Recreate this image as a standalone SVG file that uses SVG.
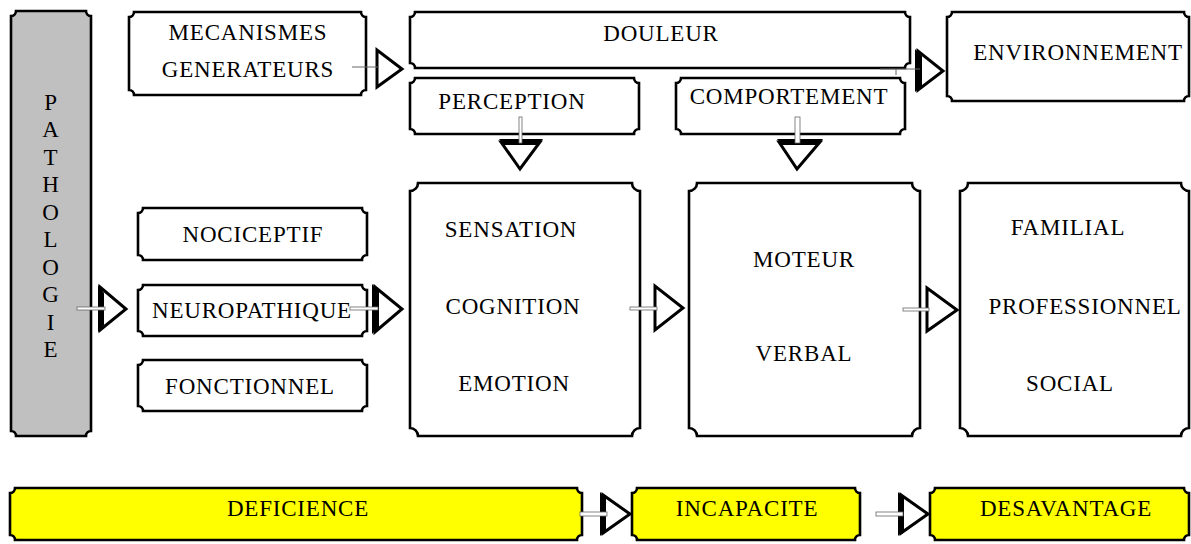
<svg xmlns="http://www.w3.org/2000/svg" width="1191" height="544" viewBox="0 0 1191 544">
<style>
.box{fill:#fff;stroke:#000;stroke-width:2.6}
.gray{fill:#c0c0c0}
.yel{fill:#ffff00}
.t{font-family:"Liberation Serif","Times New Roman",serif;font-size:23px;letter-spacing:0.8px;text-anchor:middle;fill:#000}
.tri{fill:#fff;stroke:#000;stroke-width:3;stroke-linejoin:miter}
.band{fill:#000}
.shaft{fill:#fff;stroke:#666;stroke-width:0.8}
.ln{stroke:#666;stroke-width:1;fill:none}
</style>
<rect width="1191" height="544" fill="#fff"/>
<g id="pathologie">
<path class="box gray" d="M16,11 H86 A5 5 0 0 0 91,16 V431 A5 5 0 0 0 86,436 H16 A5 5 0 0 0 11,431 V16 A5 5 0 0 0 16,11 Z"/>
<text class="t" x="51" y="110">P</text>
<text class="t" x="51" y="137">A</text>
<text class="t" x="51" y="165">T</text>
<text class="t" x="51" y="192">H</text>
<text class="t" x="51" y="220">O</text>
<text class="t" x="51" y="247">L</text>
<text class="t" x="51" y="275">O</text>
<text class="t" x="51" y="302">G</text>
<text class="t" x="51" y="330">I</text>
<text class="t" x="51" y="357">E</text>
</g>
<g id="mecanismes">
<path class="box" d="M134,12 H361 A5 5 0 0 0 366,17 V90 A5 5 0 0 0 361,95 H134 A5 5 0 0 0 129,90 V17 A5 5 0 0 0 134,12 Z"/>
<text class="t" x="248" y="40">MECANISMES</text>
<text class="t" x="248" y="77">GENERATEURS</text>
</g>
<g id="douleur">
<path class="box" d="M415,12 H905 A5 5 0 0 0 910,17 V63 A5 5 0 0 0 905,68 H415 A5 5 0 0 0 410,63 V17 A5 5 0 0 0 415,12 Z"/>
<text class="t" x="661" y="41">DOULEUR</text>
</g>
<g id="environnement">
<path class="box" d="M952,12 H1184 A5 5 0 0 0 1189,17 V96 A5 5 0 0 0 1184,101 H952 A5 5 0 0 0 947,96 V17 A5 5 0 0 0 952,12 Z"/>
<text class="t" x="1078" y="60">ENVIRONNEMENT</text>
</g>
<g id="perception">
<path class="box" d="M415,78 H634 A5 5 0 0 0 639,83 V129 A5 5 0 0 0 634,134 H415 A5 5 0 0 0 410,129 V83 A5 5 0 0 0 415,78 Z"/>
<text class="t" x="512" y="109">PERCEPTION</text>
</g>
<g id="comportement">
<path class="box" d="M681,78 H900 A5 5 0 0 0 905,83 V129 A5 5 0 0 0 900,134 H681 A5 5 0 0 0 676,129 V83 A5 5 0 0 0 681,78 Z"/>
<text class="t" x="789" y="104">COMPORTEMENT</text>
</g>
<g id="nociceptif">
<path class="box" d="M143,208 H362 A5 5 0 0 0 367,213 V255 A5 5 0 0 0 362,260 H143 A5 5 0 0 0 138,255 V213 A5 5 0 0 0 143,208 Z"/>
<text class="t" x="253" y="242">NOCICEPTIF</text>
</g>
<g id="neuropathique">
<path class="box" d="M143,285 H362 A5 5 0 0 0 367,290 V331 A5 5 0 0 0 362,336 H143 A5 5 0 0 0 138,331 V290 A5 5 0 0 0 143,285 Z"/>
<text class="t" x="252" y="318">NEUROPATHIQUE</text>
</g>
<g id="fonctionnel">
<path class="box" d="M143,360 H362 A5 5 0 0 0 367,365 V406 A5 5 0 0 0 362,411 H143 A5 5 0 0 0 138,406 V365 A5 5 0 0 0 143,360 Z"/>
<text class="t" x="250" y="394">FONCTIONNEL</text>
</g>
<g id="sensation">
<path class="box" d="M418,183 H632 A8 8 0 0 0 640,191 V428 A8 8 0 0 0 632,436 H418 A8 8 0 0 0 410,428 V191 A8 8 0 0 0 418,183 Z"/>
<text class="t" x="511" y="237">SENSATION</text>
<text class="t" x="513" y="314">COGNITION</text>
<text class="t" x="514" y="391">EMOTION</text>
</g>
<g id="moteur">
<path class="box" d="M697,183 H912 A8 8 0 0 0 920,191 V428 A8 8 0 0 0 912,436 H697 A8 8 0 0 0 689,428 V191 A8 8 0 0 0 697,183 Z"/>
<text class="t" x="804" y="267">MOTEUR</text>
<text class="t" x="804" y="361">VERBAL</text>
</g>
<g id="familial">
<path class="box" d="M968,183 H1181 A8 8 0 0 0 1189,191 V428 A8 8 0 0 0 1181,436 H968 A8 8 0 0 0 960,428 V191 A8 8 0 0 0 968,183 Z"/>
<text class="t" x="1068" y="235">FAMILIAL</text>
<text class="t" x="1085" y="314">PROFESSIONNEL</text>
<text class="t" x="1070" y="391">SOCIAL</text>
</g>
<g id="deficience">
<path class="box yel" d="M15,488 H577 A5 5 0 0 0 582,493 V535 A5 5 0 0 0 577,540 H15 A5 5 0 0 0 10,535 V493 A5 5 0 0 0 15,488 Z"/>
<text class="t" x="298" y="516">DEFICIENCE</text>
</g>
<g id="incapacite">
<path class="box yel" d="M637,488 H855 A5 5 0 0 0 860,493 V535 A5 5 0 0 0 855,540 H637 A5 5 0 0 0 632,535 V493 A5 5 0 0 0 637,488 Z"/>
<text class="t" x="747" y="516">INCAPACITE</text>
</g>
<g id="desavantage">
<path class="box yel" d="M935,488 H1184 A5 5 0 0 0 1189,493 V535 A5 5 0 0 0 1184,540 H935 A5 5 0 0 0 930,535 V493 A5 5 0 0 0 935,488 Z"/>
<text class="t" x="1066" y="516">DESAVANTAGE</text>
</g>
<g id="connectors">
<polygon class="tri" points="377,50 377,87 402,69"/>
<line class="ln" x1="352" y1="67" x2="379" y2="67"/>

<polygon class="tri" points="100,287 100,330 126,309"/>
<polygon class="band" points="98,285 104,293 104,325 98,332"/>
<rect class="shaft" x="77" y="307" width="28" height="3"/>

<polygon class="tri" points="375,287 375,332 402,309"/>
<polygon class="band" points="372,284 379,291 379,327 372,334"/>
<rect class="shaft" x="350" y="307" width="28" height="3"/>

<polygon class="tri" points="655,286 655,330 683,308"/>
<rect class="shaft" x="630" y="307" width="27" height="3"/>

<polygon class="tri" points="927,288 927,331 957,310"/>
<rect class="shaft" x="903" y="308" width="26" height="3"/>

<polygon class="tri" points="918,51 918,90 943,71"/>
<polygon class="band" points="915,49 922,56 922,86 915,92"/>
<line class="ln" x1="880" y1="69" x2="920" y2="69"/>
<line class="ln" x1="896" y1="69" x2="896" y2="75"/>

<polygon class="tri" points="501,142 540,142 520,169"/>
<polygon class="band" points="499,139 543,139 538,145 504,145"/>
<rect class="shaft" x="519" y="117" width="3" height="26"/>

<polygon class="tri" points="779,142 820,142 797,169"/>
<polygon class="band" points="777,139 823,139 818,145 782,145"/>
<rect class="shaft" x="795" y="117" width="5" height="26"/>

<polygon class="tri" points="603,495 603,533 630,514"/>
<polygon class="band" points="600,492 606,498 606,530 600,536"/>
<rect class="shaft" x="580" y="512" width="27" height="4"/>

<polygon class="tri" points="901,495 901,533 928,514"/>
<polygon class="band" points="898,492 904,498 904,530 898,536"/>
<rect class="shaft" x="876" y="512" width="27" height="4"/>
</g>
</svg>
